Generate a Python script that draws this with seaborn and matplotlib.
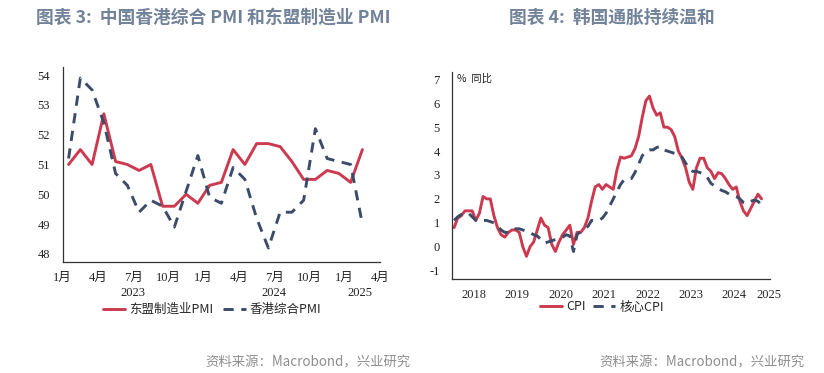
import numpy as np
import pandas as pd
import matplotlib
matplotlib.use("Agg")
import matplotlib.pyplot as plt
import seaborn as sns

sns.set_style("white")
plt.rcParams["font.family"] = ["Noto Sans CJK SC", "DejaVu Sans"]
plt.rcParams["axes.unicode_minus"] = False

SERIF = ["Liberation Serif", "Noto Sans CJK SC"]
RED = "#CC3A50"
NAVY = "#3B4C6B"
TITLE_C = "#718299"
FOOT_C = "#8E8E8E"

# ---- 图表 3: monthly, Jan 2023 .. Feb 2025
pmi_months = 26
asean_pmi = [51.0, 51.5, 51.0, 52.7, 51.1, 51.0, 50.8, 51.0, 49.6, 49.6, 50.0, 49.7,
             50.3, 50.4, 51.5, 51.0, 51.7, 51.7, 51.6, 51.1, 50.5, 50.5, 50.8, 50.7,
             50.4, 51.5]
hk_pmi = [51.2, 53.9, 53.5, 52.4, 50.7, 50.3, 49.4, 49.8, 49.6, 48.9, 50.1, 51.3,
          49.9, 49.7, 50.9, 50.5, 49.2, 48.2, 49.4, 49.4, 49.8, 52.2, 51.2, 51.1,
          51.0, 49.0]
month_ticks = ["1月", "4月", "7月", "10月", "1月", "4月", "7月", "10月", "1月", "4月"]
pmi_years = ["2023", "2024", "2025"]

# ---- 图表 4: monthly, Jan 2018 .. Feb 2025
cpi = [0.8, 1.2, 1.3, 1.5, 1.5, 1.5, 1.1, 1.4, 2.1, 2.0, 2.0, 1.3,
       0.8, 0.5, 0.4, 0.6, 0.7, 0.7, 0.6, 0.0, -0.4, 0.0, 0.2, 0.7,
       1.2, 0.9, 0.8, 0.1, -0.2, 0.2, 0.5, 0.7, 0.9, 0.1, 0.6, 0.6,
       0.8, 1.2, 1.9, 2.5, 2.6, 2.4, 2.6, 2.5, 2.4, 3.2, 3.75, 3.7,
       3.75, 3.8, 4.1, 4.6, 5.4, 6.1, 6.3, 5.8, 5.5, 5.6, 5.0, 5.0,
       4.9, 4.6, 4.0, 3.7, 3.3, 2.7, 2.4, 3.3, 3.7, 3.7, 3.3, 3.15,
       2.85, 3.1, 3.05, 2.85, 2.6, 2.4, 2.5, 1.9, 1.5, 1.3, 1.6, 1.9,
       2.2, 2.0]
core_cpi = [1.1, 1.25, 1.35, 1.4, 1.4, 1.25, 1.1, 1.05, 1.1, 1.1, 1.05, 1.0,
            0.85, 0.7, 0.6, 0.6, 0.65, 0.75, 0.75, 0.7, 0.65, 0.6, 0.5, 0.45,
            0.3, 0.15, 0.2, 0.25, 0.3, 0.35, 0.4, 0.5, 0.45, -0.2, 0.5, 0.65,
            0.75, 0.85, 1.1, 1.1, 1.1, 1.2, 1.4, 1.7, 2.0, 2.3, 2.6, 2.8,
            2.85, 2.85, 3.1, 3.45, 3.8, 4.0, 4.05, 4.05, 4.15, 4.2, 4.05, 4.0,
            3.95, 3.9, 3.85, 3.75, 3.5, 3.25, 3.15, 3.15, 3.1, 3.05, 2.9, 2.65,
            2.55, 2.45, 2.35, 2.3, 2.2, 2.15, 2.1, 2.0, 1.85, 1.8, 1.9, 1.95,
            1.9, 1.75]
cpi_years = [2018, 2019, 2020, 2021, 2022, 2023, 2024, 2025]


def style_axes(ax):
    sns.despine(ax=ax)
    for s in ("left", "bottom"):
        ax.spines[s].set_color("#333333")
        ax.spines[s].set_linewidth(0.9)
    ax.tick_params(axis="both", direction="out", length=5, width=0.9,
                   color="#333333", labelsize=9, labelcolor="#222222")
    ax.tick_params(axis="y", pad=4)
    ax.grid(False)


fig = plt.figure(figsize=(8.24, 3.73), dpi=100)
ax1 = fig.add_axes([0.0761, 0.2976, 0.3851, 0.5228])
ax2 = fig.add_axes([0.5489, 0.2520, 0.3856, 0.5558])

# ------------------------------------------------------------------
pmi_x = np.arange(pmi_months) + 0.5
pmi_df = pd.DataFrame({
    "x": np.concatenate([pmi_x, pmi_x]),
    "v": asean_pmi + hk_pmi,
    "s": ["东盟制造业PMI"] * pmi_months + ["香港综合PMI"] * pmi_months,
})
sns.lineplot(data=pmi_df, x="x", y="v", hue="s", style="s", ax=ax1,
             palette={"东盟制造业PMI": RED, "香港综合PMI": NAVY},
             dashes={"东盟制造业PMI": "", "香港综合PMI": (3.5, 2.6)},
             linewidth=2.1)
ax1.set_xlim(0, 27)
ax1.set_ylim(47.73, 54.27)
ax1.set_xticks(np.arange(0, 28, 3))
ax1.set_xticklabels(month_ticks)
ax1.set_yticks(np.arange(48, 55, 1))
ax1.set_xlabel("")
ax1.set_ylabel("")
style_axes(ax1)
ax1.tick_params(axis="x", pad=2)
for x, lab in zip([6, 18, 25.3], pmi_years):
    ax1.text(x, -0.16, lab, transform=ax1.get_xaxis_transform(), ha="center",
             va="center", fontsize=9, family=SERIF, color="#222222")
h, l = ax1.get_legend_handles_labels()
ax1.legend(h, l, loc="center", bbox_to_anchor=(0.47, -0.245), ncol=2,
           frameon=False, fontsize=9, handlelength=1.8, columnspacing=0.8,
           handletextpad=0.3, borderaxespad=0)

# ------------------------------------------------------------------
cpi_x = 2018 + (np.arange(len(cpi)) + 0.5) / 12
cpi_df = pd.DataFrame({
    "x": np.concatenate([cpi_x, cpi_x]),
    "v": cpi + core_cpi,
    "s": ["CPI"] * len(cpi) + ["核心CPI"] * len(core_cpi),
})
sns.lineplot(data=cpi_df, x="x", y="v", hue="s", style="s", ax=ax2,
             palette={"CPI": RED, "核心CPI": NAVY},
             dashes={"CPI": "", "核心CPI": (3.5, 2.6)},
             linewidth=2.1)
ax2.set_xlim(2018, 2025.32)
ax2.set_ylim(-1.35, 7.32)
ax2.set_xticks(cpi_years)
ax2.set_xticklabels([])
ax2.set_xticks([y + 0.5 for y in cpi_years[:-1]] + [2025.29], minor=True)
ax2.set_xticklabels([str(y) for y in cpi_years], minor=True)
ax2.set_yticks(np.arange(-1, 8, 1))
ax2.set_xlabel("")
ax2.set_ylabel("")
style_axes(ax2)
ax2.tick_params(axis="x", which="minor", length=0, pad=7, labelsize=9)
ax2.text(0.015, 0.965, "%  同比", transform=ax2.transAxes, ha="left",
         va="center", fontsize=7.5, color="#222222")
h, l = ax2.get_legend_handles_labels()
ax2.legend(h, l, loc="center", bbox_to_anchor=(0.47, -0.135), ncol=2,
           frameon=False, fontsize=9, handlelength=1.8, columnspacing=0.6,
           handletextpad=0.3, borderaxespad=0)

for ax in (ax1, ax2):
    for lab in ax.get_xticklabels(which="both") + ax.get_yticklabels():
        lab.set_family(SERIF)

# ------------------------------------------------------------------
fig.text(36 / 824, 1 - 18 / 373, "图表 3:  中国香港综合 PMI 和东盟制造业 PMI",
         ha="left", va="center", fontsize=12.8, weight="bold", color=TITLE_C)
fig.text(509 / 824, 1 - 18 / 373, "图表 4:  韩国通胀持续温和",
         ha="left", va="center", fontsize=12.8, weight="bold", color=TITLE_C)
fig.text(411 / 824, 1 - 362 / 373, "资料来源：Macrobond，兴业研究",
         ha="right", va="center", fontsize=9.6, color=FOOT_C)
fig.text(805 / 824, 1 - 362 / 373, "资料来源：Macrobond，兴业研究",
         ha="right", va="center", fontsize=9.6, color=FOOT_C)

fig.savefig("out.png", dpi=100)
